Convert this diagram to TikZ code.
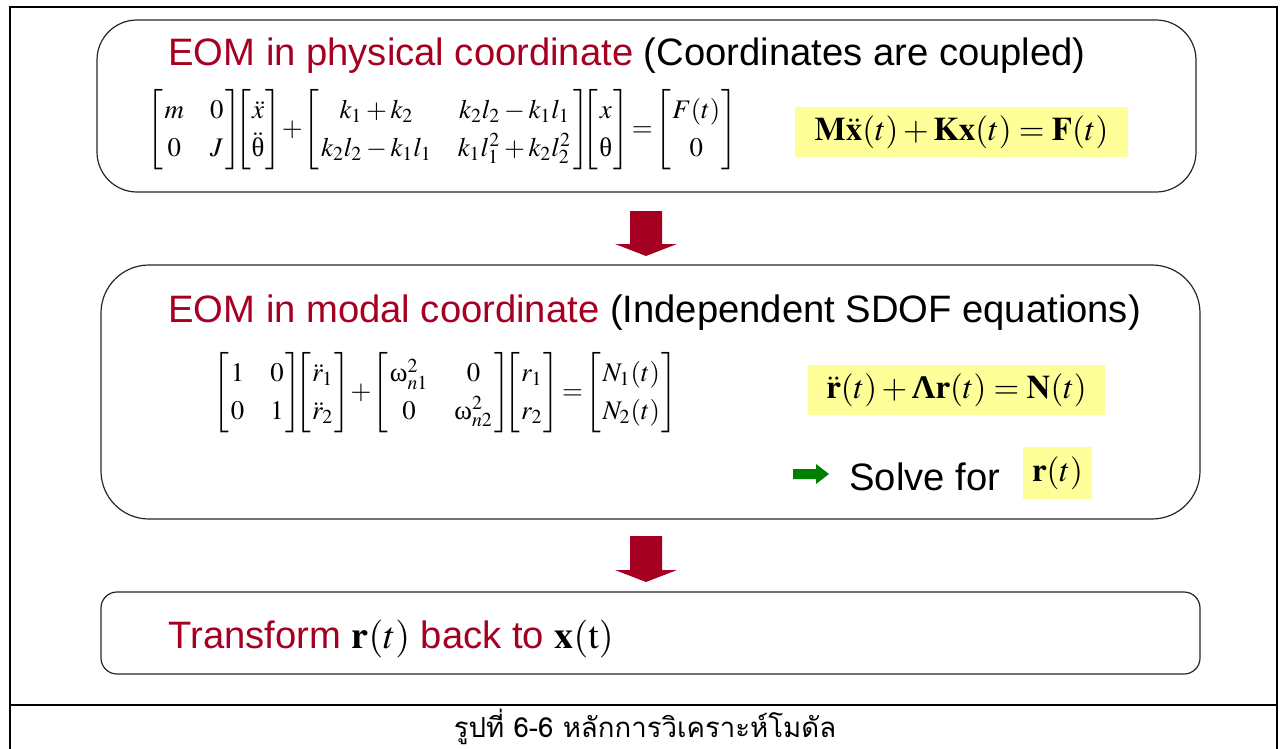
\documentclass[tikz,border=0pt]{standalone}
\usepackage{amsmath}
\usepackage{mathptmx}
\usepackage{fontspec}
\setmainfont{Liberation Serif}
\newfontfamily\arialfont{Liberation Sans}
\newfontfamily\thaifont[Script=Thai]{Loma}
\usetikzlibrary{fit}
\definecolor{eomred}{HTML}{A50021}
\definecolor{hlyellow}{HTML}{FFFF99}
\definecolor{okgreen}{HTML}{008000}
\newcommand{\upth}{\mbox{\rmfamily\mdseries θ}}
\newcommand{\upom}{\mbox{\rmfamily\mdseries ω}}
\newcommand{\bLam}{\mbox{\rmfamily\bfseries Λ}}
\newcommand{\bmat}[1]{\left[\begin{array}{@{\hspace{1pt}}cc@{\hspace{1pt}}}#1\end{array}\right]}
\newcommand{\bvec}[1]{\left[\begin{array}{@{\hspace{0.5pt}}c@{\hspace{0.5pt}}}#1\end{array}\right]}
\begin{document}
\begin{tikzpicture}[x=0.5pt,y=-0.5pt,
  frameline/.style={line width=1.3pt,black},
  roundbox/.style={draw=black!85,line width=0.6pt,inner sep=0pt},
  headtext/.style={font=\arialfont\fontsize{19.1}{23}\selectfont,inner sep=0pt},
  eqtext/.style={font=\rmfamily\fontsize{13.4}{15}\selectfont\renewcommand{\arraystretch}{1.24}\setlength{\arraycolsep}{6.5pt},inner sep=0pt},
  hlbox/.style={fill=hlyellow,font=\rmfamily\fontsize{16.5}{19}\selectfont,inner sep=0pt},
  blockarrow/.style={fill=eomred},
]
\useasboundingbox (0,0) rectangle (1285,749);
% outer frame
\draw[frameline] (10,7) -- (1277,7);
\draw[frameline] (10,6) -- (10,749);
\draw[frameline] (1277,6) -- (1277,749);
\draw[frameline] (10,705) -- (1277,705);

% boxes
\node[roundbox,rounded corners=20pt,fit={(97,20) (1196,192)}] (box1) {};
\node[roundbox,rounded corners=24pt,fit={(101,265) (1200,519)}] (box2) {};
\node[roundbox,rounded corners=8pt,fit={(101,592) (1200,674)}] (box3) {};

% box 1
\node[headtext,anchor=base west] (h1) at (168,66)
  {\textcolor{eomred}{EOM in physical coordinate} (Coordinates are coupled)};
\node[eqtext] (eq1) at (442,130) {$\bmat{ m & 0\\ 0 & J}\!\!\!
 \bvec{\ddot{x}\\ \ddot{\upth}}\!+\!
 \bmat{ k_1+k_2 & k_2l_2-k_1l_1\\ k_2l_2-k_1l_1 & k_1l_1^2+k_2l_2^2}\!\!\!
 \bvec{ x\\ \upth}\!=\!
 \bvec{ F(t)\\ 0}$};
\node[hlbox,minimum width=166.5pt,minimum height=25pt] (e1) at (961.5,132)
  {$\mathbf{M}\ddot{\mathbf{x}}(t)+\mathbf{K}\mathbf{x}(t)=\mathbf{F}(t)$};

% box 2
\node[headtext,anchor=base west] (h2) at (168,322)
  {\textcolor{eomred}{EOM in modal coordinate} (Independent SDOF equations)};
\node[eqtext] (eq2) at (445,393) {$\bmat{ 1 & 0\\ 0 & 1}\!\!\!
 \bvec{\ddot{r}_1\\ \ddot{r}_2}\!+\!
 \bmat{ \upom_{n1}^2 & 0\\ 0 & \upom_{n2}^2}\!\!\!
 \bvec{ r_1\\ r_2}\!=\!
 \bvec{ N_1(t)\\ N_2(t)}$};
\node[hlbox,minimum width=148.5pt,minimum height=25pt] (e2) at (956.5,390)
  {$\ddot{\mathbf{r}}(t)+\bLam\mathbf{r}(t)=\mathbf{N}(t)$};
\fill[okgreen] (793,469) -- (816,469) -- (816,464) -- (829,474) -- (816,484) -- (816,479) -- (793,479) -- cycle;
\node[headtext,anchor=base west] (solve) at (849,490) {Solve for};
\node[hlbox,minimum width=34.5pt,minimum height=26pt] (e3) at (1057.5,473) {$\mathbf{r}(t)$};

% box 3
\node[headtext,anchor=base west] (h3) at (168,648)
  {\textcolor{eomred}{Transform} {\rmfamily\fontsize{19}{21}\selectfont$\mathbf{r}(t)$} \textcolor{eomred}{back to} {\rmfamily\fontsize{19}{21}\selectfont$\mathbf{x}(\mathrm{t})$}};

% block arrows
\fill[blockarrow] (630,211) -- (662,211) -- (662,244) -- (677,244) -- (646,256) -- (615,244) -- (630,244) -- cycle;
\fill[blockarrow] (630,536) -- (662,536) -- (662,570) -- (677,570) -- (646,582) -- (615,570) -- (630,570) -- cycle;

% caption
\node[font=\thaifont\fontsize{13.8}{16}\selectfont,inner sep=0pt] (cap) at (645,727) {รูปที่ 6-6 หลักการวิเคราะห์โมดัล};
\end{tikzpicture}
\end{document}
